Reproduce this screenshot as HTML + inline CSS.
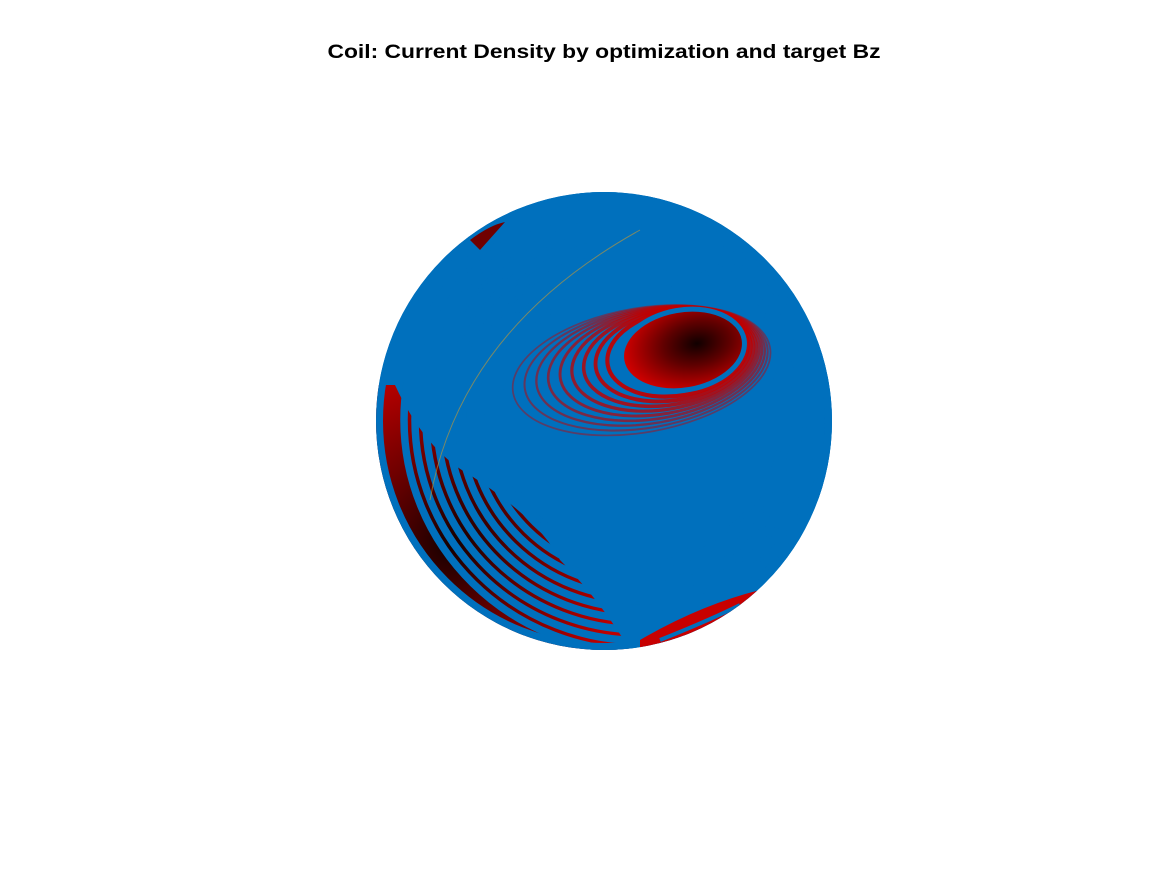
<!DOCTYPE html>
<html><head><meta charset="utf-8">
<style>
html,body{margin:0;padding:0;background:#fff;}
svg{display:block;}
</style></head>
<body>
<svg width="1167" height="875" viewBox="0 0 1167 875">
<defs>
<clipPath id="sph"><ellipse cx="604" cy="421" rx="228" ry="229"/></clipPath>
<radialGradient id="blobG" cx="0.62" cy="0.45" r="0.6">
<stop offset="0" stop-color="#100000"/><stop offset="0.45" stop-color="#600000"/><stop offset="1" stop-color="#d00000"/>
</radialGradient>
<radialGradient id="leftG" cx="0.3" cy="0.6" r="0.7">
<stop offset="0" stop-color="#150000"/><stop offset="0.5" stop-color="#700000"/><stop offset="1" stop-color="#c00000"/>
</radialGradient>
</defs>
<text x="604" y="58" text-anchor="middle" font-family="Liberation Sans, sans-serif" font-weight="bold" font-size="19" textLength="553" lengthAdjust="spacingAndGlyphs">Coil: Current Density by optimization and target Bz</text>
<g clip-path="url(#sph)">
<ellipse cx="604" cy="421" rx="228" ry="229" fill="#0070bd"/>
<g id="left-region"></g>
<g id="blob"></g>
<path d="M640 640 Q700 605 760 590 L760 620 Q700 650 640 650 Z" fill="#c80000"/>
<path d="M660 640 Q710 620 740 605" stroke="#0070bd" stroke-width="4" fill="none"/>
<path d="M470 240 Q490 225 505 222 L480 250 Z" fill="#700000"/>
<path d="M430 500 Q460 330 640 230" stroke="#c89a30" stroke-width="1" fill="none" opacity="0.6"/>
</g>
<script>
const ringScales=[1.12,1.22,1.32,1.42,1.52,1.62,1.72,1.82,1.92];
const leftRings=[236,225,214,203,192,181,170,159,148];
const NS='http://www.w3.org/2000/svg';
const blob=document.getElementById('blob');
const cx=683,cy=350,rx=62,ry=40,rot=-10;
ringScales.slice().reverse().forEach((s,i)=>{
 const k=s-1;
 const ex=cx-k*45, ey=cy+k*22;
 const r=document.createElementNS(NS,'ellipse');
 r.setAttribute('cx',ex);r.setAttribute('cy',ey);
 r.setAttribute('rx',rx*(1+k*1.2));r.setAttribute('ry',ry*(1+k*0.6));
 r.setAttribute('transform','rotate('+rot+' '+ex+' '+ey+')');
 r.setAttribute('fill','none');r.setAttribute('stroke','#c00000');
 r.setAttribute('stroke-width', (4.5-k*3).toFixed(2));
 r.setAttribute('opacity',(1-k*0.6).toFixed(2));
 
 
 blob.appendChild(r);
});
const c=document.createElementNS(NS,'ellipse');
c.setAttribute('cx',cx);c.setAttribute('cy',cy);c.setAttribute('rx',rx);c.setAttribute('ry',ry);
c.setAttribute('transform','rotate('+rot+' '+cx+' '+cy+')');c.setAttribute('fill','url(#blobG)');
c.setAttribute('stroke','#0070bd');c.setAttribute('stroke-width','5');


blob.appendChild(c);
const L=document.getElementById('left-region');
const p=document.createElementNS(NS,'path');
p.setAttribute('d','M376 385 L395 385 Q425 450 470 475 Q540 520 560 560 Q600 600 630 650 L376 650 Z');
p.setAttribute('fill','url(#leftG)');


L.appendChild(p);
leftRings.forEach(r=>{
 const a=document.createElementNS(NS,'ellipse');
 a.setAttribute('cx',640);a.setAttribute('cy',420);a.setAttribute('rx',r);a.setAttribute('ry',r*0.98);
 a.setAttribute('fill','none');a.setAttribute('stroke','#0070bd');a.setAttribute('stroke-width',7.5);
 
 
 L.appendChild(a);
});
const edge=document.createElementNS(NS,'ellipse');
edge.setAttribute('cx',604);edge.setAttribute('cy',421);edge.setAttribute('rx',228);edge.setAttribute('ry',229);
edge.setAttribute('fill','none');edge.setAttribute('stroke','#0070bd');edge.setAttribute('stroke-width',14);


L.appendChild(edge);
const cover=document.createElementNS(NS,'ellipse');
cover.setAttribute('cx',640);cover.setAttribute('cy',420);cover.setAttribute('rx',140);cover.setAttribute('ry',137);cover.setAttribute('fill','#0070bd');


L.appendChild(cover);
</script>
</svg>
</body></html>
